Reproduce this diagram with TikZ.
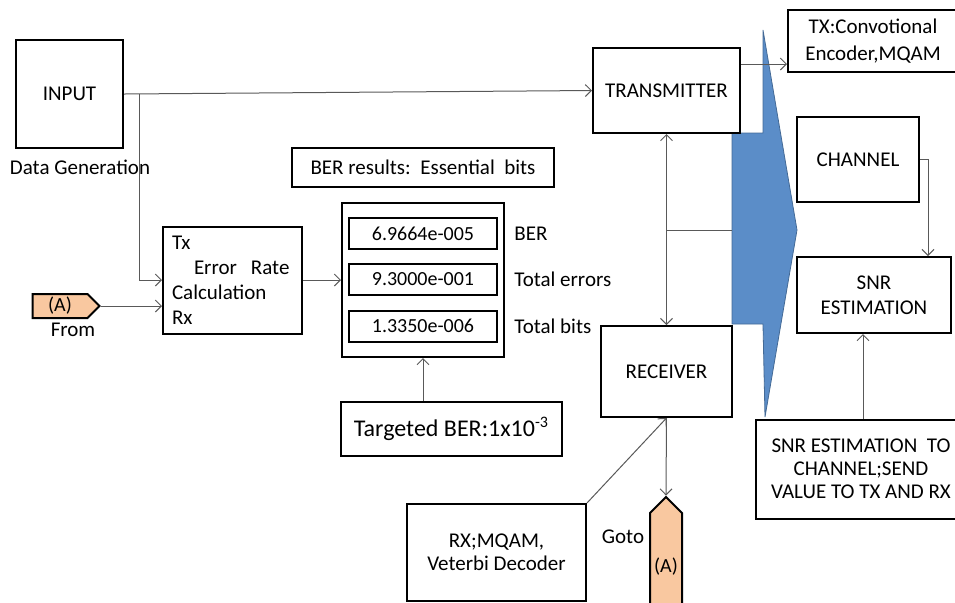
\documentclass[tikz,border=0pt]{standalone}
\usepackage{fontspec}
\setmainfont{Carlito}
\usepackage{xcolor}
\usepackage{tikz}
\usetikzlibrary{arrows.meta, shapes.symbols, positioning}
\definecolor{tagPeach}{RGB}{249,200,160}
\definecolor{flowBlue}{RGB}{91,141,200}

\begin{document}
\begin{tikzpicture}[
        x=0.5pt, y=-0.5pt,
        >={Straight Barb[length=3pt, width=6pt]},
        blockNode/.style={rectangle, draw=black, line width=1pt, fill=white,
        inner sep=0pt, align=center, font=\fontsize{10.5}{12.5}\selectfont},
        valueNode/.style={blockNode, minimum width=74pt, minimum height=15.5pt,
        font=\fontsize{10}{12}\selectfont},
        tagNode/.style={signal, draw=black, line width=1pt, fill=tagPeach,
        inner sep=0pt, font=\fontsize{10}{12}\selectfont},
        plainLabel/.style={inner sep=0pt, font=\fontsize{10.5}{12}\selectfont},
        wire/.style={draw=black!65, line width=0.5pt},
    ]
    \useasboundingbox (0,0) rectangle (955,602);
    \clip (0,0) rectangle (955,602);

    % big block arrow between TX/RX and channel side
    \filldraw[fill=flowBlue, draw=flowBlue!75!black, line width=0.4pt]
        (763,30) -- (797,230) -- (765,417) -- (763,324) -- (732,324)
        -- (732,133) -- (763,133) -- cycle;

    \node[blockNode, minimum width=53.5pt, minimum height=54pt] (input)       at (69.5,94)    {INPUT};
    \node[plainLabel]                                            (dataGen)     at (80,167)     {Data Generation};
    \node[blockNode, minimum width=69.5pt, minimum height=53.5pt,
          align=left, text width=60.5pt, inner xsep=4.5pt]       (errCalc)     at (232.5,280)  {Tx\\\hspace*{11pt}Error\ \ Rate\\Calculation\\Rx};
    \node[tagNode, signal to=east, minimum width=33.5pt,
          minimum height=12pt]                                   (fromTag)     at (60,306)     {(A)};
    \node[plainLabel]                                            (fromLbl)     at (73,330)     {From};

    \node[blockNode, minimum width=131pt, minimum height=19.5pt] (berTitle)    at (423,167.5)  {BER results:\ \ Essential\ \ bits};
    \node[blockNode, minimum width=81pt, minimum height=77pt]    (berDisplay)  at (423,280)    {};
    \node[valueNode] (berVal) at (423,233.5) {6.9664e-005};
    \node[valueNode] (errVal) at (423,279.5) {9.3000e-001};
    \node[valueNode] (bitVal) at (423,326)   {1.3350e-006};
    \node[plainLabel] (berLbl) [right=8pt of berVal] {BER};
    \node[plainLabel] (errLbl) [right=8pt of errVal] {Total errors};
    \node[plainLabel] (bitLbl) [right=8pt of bitVal] {Total bits};
    \node[blockNode, minimum width=110.5pt, minimum height=27pt,
          font=\fontsize{12}{14}\selectfont]                     (target)      at (451.5,429)  {Targeted BER:1x10\textsuperscript{-3}};

    \node[blockNode, minimum width=73.5pt, minimum height=42.5pt] (transmitter) at (666.5,90.5) {TRANSMITTER};
    \node[blockNode, minimum width=85pt, minimum height=31pt,
          font=\fontsize{10.5}{13.5}\selectfont]                 (txEnc)       at (873,41)     {TX:Convotional\\Encoder,MQAM};
    \node[blockNode, minimum width=61pt, minimum height=42.5pt]  (channel)     at (858,159.5)  {CHANNEL};
    \node[blockNode, minimum width=77pt, minimum height=38pt]    (snrEst)      at (874,295)    {SNR\\ESTIMATION};
    \node[blockNode, minimum width=105pt, minimum height=49.5pt,
          font=\fontsize{10.5}{11.5}\selectfont]                 (snrSend)     at (861,469)    {SNR ESTIMATION\ \ TO\\CHANNEL;SEND\\VALUE TO TX AND RX};
    \node[blockNode, minimum width=65.5pt, minimum height=45.5pt] (receiver)   at (666.5,371.5) {RECEIVER};
    \node[blockNode, minimum width=89.5pt, minimum height=48.5pt,
          font=\fontsize{10.5}{11.5}\selectfont]                 (rxDec)       at (496.5,552.5) {RX;MQAM,\\Veterbi Decoder};
    \node[tagNode, signal to=north, minimum width=16pt,
          minimum height=60pt]                                   (gotoTag)     at (666,567)    {(A)};
    \node[plainLabel]                                            (gotoLbl)     at (623,537)    {Goto};

    % connectors
    \coordinate (inSplit) at ([xshift=7.5pt]input.east);
    \coordinate (txTip)   at ([yshift=4.5pt]txEnc.south west);
    \coordinate (blueIn)  at (732,230);
    \draw[wire, ->] (input.east) -- (transmitter.west);
    \draw[wire, ->] (inSplit) |- (errCalc.west);
    \draw[wire, ->] (fromTag.east) -- (fromTag.east -| errCalc.west);
    \draw[wire, ->] (errCalc.east) -- (berDisplay.west);
    \draw[wire, ->] (target.north -| berDisplay.south) -- (berDisplay.south);
    \draw[wire, ->] (transmitter.east |- txTip) -- (txTip);
    \draw[wire, <->] (transmitter.south) -- (receiver.north);
    \draw[wire] (blueIn -| transmitter.south) -- (blueIn);
    \draw[wire, ->] (channel.east) -| ([xshift=-12pt]snrEst.north east);
    \draw[wire, ->] ([xshift=1pt]snrSend.north) -- ([xshift=1pt]snrSend.north |- snrEst.south);
    \draw[wire, ->] (rxDec.north east) -- (receiver.south);
    \draw[wire, ->] (receiver.south) -- (gotoTag.north);
\end{tikzpicture}
\end{document}
